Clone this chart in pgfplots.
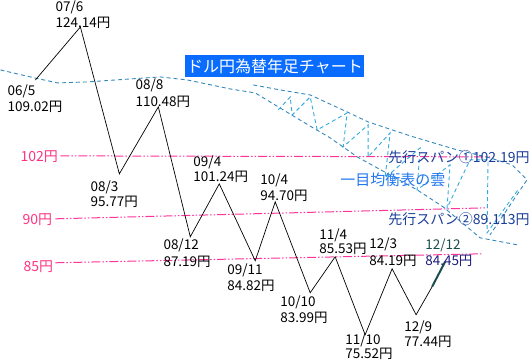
\documentclass[border=0pt]{standalone}
\usepackage{fontspec}
\setmainfont{Noto Sans CJK JP}
\usepackage{pgfplots}
\pgfplotsset{compat=1.18}
\definecolor{pinkl}{HTML}{FF3399}
\definecolor{pinkt}{HTML}{FF3380}
\definecolor{cloudb}{HTML}{3388BB}
\definecolor{cloudt}{HTML}{33AADD}
\definecolor{titlebg}{HTML}{0A6CFF}
\definecolor{spanblue}{HTML}{1A3D99}
\definecolor{kumoblue}{HTML}{2277EE}
\definecolor{tealdk}{HTML}{1A4D4D}
\definecolor{navydk}{HTML}{1A1A80}
\newcommand\lbl[5]{%
  \node[anchor=base west,inner sep=0pt,font=\fontsize{13.5}{15}\selectfont] at (axis cs:#1,#2) {#4};
  \node[anchor=base west,inner sep=0pt,font=\fontsize{13.5}{15}\selectfont] at (axis cs:#1,#3) {#5};}
\begin{document}
\begin{tikzpicture}
\begin{axis}[scale only axis, width=531pt, height=362pt,
  xmin=0, xmax=531, ymin=0, ymax=362, y dir=reverse,
  axis line style={draw=none}, xtick=\empty, ytick=\empty, clip=false]
% pink reference lines
\addplot[pinkl, line width=1pt, dash pattern=on 9pt off 2pt on 1.5pt off 2pt on 1.5pt off 2pt] coordinates {(60,156) (490,157)};
\addplot[pinkl, line width=1pt, dash pattern=on 9pt off 2pt on 1.5pt off 2pt on 1.5pt off 2pt] coordinates {(55,219) (487,208)};
\addplot[pinkl, line width=1pt, dash pattern=on 9pt off 2pt on 1.5pt off 2pt on 1.5pt off 2pt] coordinates {(55,263) (483,254)};
% cloud boundaries
\addplot[cloudb, line width=0.9pt, dash pattern=on 4pt off 3pt] coordinates {
 (0,70) (30,77) (57,83) (87,82) (130,79) (160,77) (187,80) (230,89) (255,93) (293,116) (313,128) (330,138) (357,157) (377,168) (417,190) (443,207) (467,227) (480,238) (517,245)};
\addplot[cloudb, line width=0.9pt, dash pattern=on 4pt off 3pt] coordinates {
 (253,85) (280,90) (310,95) (347,112) (368,122) (410,136) (457,150) (490,158) (512,165) (527,180) (490,235)};
% cloud truss
\addplot[cloudt, line width=0.9pt, dash pattern=on 4pt off 3pt] coordinates {
 (278,110) (290,97) (292,115) (310,97) (317,130) (347,113) (343,147) (368,125) (368,157) (390,133) (385,178) (420,148) (417,190) (450,165) (447,208) (470,160) (488,160) (487,233) (518,190)};
% price zigzag
\addplot[black, line width=0.7pt] coordinates {
 (35,80) (80,27) (119,174) (158,107) (190,237) (219,184) (255,261) (275,202) (310,293) (335,257) (365,335) (392,269) (416,315) (432,287)};
\addplot[tealdk, line width=2pt] coordinates {(432,287) (445,262)};
% title
\node[anchor=north west, fill=titlebg, text=white, inner sep=0pt, minimum width=179pt, minimum height=22pt, font=\fontsize{16}{16}\selectfont] at (axis cs:185,55) {ドル円為替年足チャート};
% labels
\lbl{55}{12}{28}{07/6}{124.14円}
\lbl{7}{96}{112}{06/5}{109.02円}
\lbl{135}{90}{107}{08/8}{110.48円}
\lbl{90}{192}{207}{08/3}{95.77円}
\lbl{193}{167}{182}{09/4}{101.24円}
\lbl{260}{185}{201}{10/4}{94.70円}
\lbl{163}{250}{267}{08/12}{87.19円}
\lbl{227}{275}{291}{09/11}{84.82円}
\lbl{319}{240}{254}{11/4}{85.53円}
\lbl{369}{249}{266}{12/3}{84.19円}
\lbl{280}{307}{323}{10/10}{83.99円}
\lbl{345}{345}{359}{11/10}{75.52円}
\lbl{404}{332}{347}{12/9}{77.44円}
\node[anchor=base west,inner sep=0pt,text=tealdk,font=\fontsize{13.5}{15}\selectfont] at (axis cs:425,250) {12/12};
\node[anchor=base west,inner sep=0pt,text=navydk,font=\fontsize{13.5}{15}\selectfont] at (axis cs:425,266) {84.45円};
% pink level labels
\node[anchor=base west,inner sep=0pt,text=pinkt,font=\fontsize{14}{15}\selectfont] at (axis cs:20,162) {102円};
\node[anchor=base west,inner sep=0pt,text=pinkt,font=\fontsize{14}{15}\selectfont] at (axis cs:22,225) {90円};
\node[anchor=base west,inner sep=0pt,text=pinkt,font=\fontsize{14}{15}\selectfont] at (axis cs:23,272) {85円};
% span labels
\node[anchor=base west,inner sep=0pt,text=spanblue,font=\fontsize{14}{15}\selectfont] at (axis cs:388,163) {先行スパン①102.19円};
\node[anchor=base west,inner sep=0pt,text=kumoblue,font=\fontsize{15}{15}\selectfont] at (axis cs:340,186) {一目均衡表の雲};
\node[anchor=base west,inner sep=0pt,text=spanblue,font=\fontsize{14}{15}\selectfont] at (axis cs:388,225) {先行スパン②89.113円};
\end{axis}
\end{tikzpicture}
\end{document}
